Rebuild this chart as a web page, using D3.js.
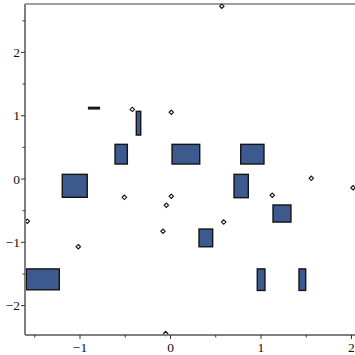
<!DOCTYPE html>
<html><head><meta charset="utf-8">
<script src="https://cdn.jsdelivr.net/npm/d3@7"></script>
<style>body{margin:0;background:#fff}svg{display:block}</style>
</head><body>
<svg id="c" width="355" height="355"></svg>
<script>
// Rectangles (data coordinates)
const rectX0 = [-0.905, -1.196, -0.613, -0.378, 0.017, 0.776, 0.702, 1.133, 0.315, -1.593, 0.959, 1.420];
const rectX1 = [-0.786, -0.920, -0.477, -0.329, 0.323, 1.033, 0.860, 1.331, 0.466, -1.229, 1.044, 1.494];
const rectY0 = [1.108, -0.289, 0.237, 0.695, 0.237, 0.237, -0.295, -0.680, -1.070, -1.750, -1.760, -1.760];
const rectY1 = [1.132, 0.074, 0.548, 1.069, 0.548, 0.548, 0.074, -0.410, -0.790, -1.420, -1.420, -1.420];
// Points
const ptX = [0.567, -1.582, -1.019, -0.422, 0.009, -0.510, 0.009, -0.046, -0.053, 1.556, 2.017, 1.125, -0.083, 0.588];
const ptY = [2.730, -0.668, -1.069, 1.100, 1.054, -0.289, -0.273, -0.415, -2.440, 0.011, -0.137, -0.257, -0.826, -0.680];
// Ticks
const xMajor = [-1, 0, 1, 2];
const xMinor = [-1.5, -0.5, 0.5, 1.5];
const yMajor = [-2, -1, 0, 1, 2];
const yMinor = [-1.5, -0.5, 0.5, 1.5, 2.5];
const fmt = v => v < 0 ? "\u2212" + Math.abs(v) : String(v);

const svg = d3.select("#c");
const x = d3.scaleLinear().domain([-1.608, 2.039]).range([25, 355]);
const y = d3.scaleLinear().domain([-2.464, 2.765]).range([335, 4]);
const axisCol = "#7f7f7f";

// frame top line
svg.append("line").attr("x1", 25).attr("x2", 355).attr("y1", 4).attr("y2", 4)
  .attr("stroke", axisCol).attr("stroke-width", 1.5);

// rects
const rects = rectX0.map((d, i) => ({x0: d, x1: rectX1[i], y0: rectY0[i], y1: rectY1[i]}));
svg.append("g").selectAll("rect").data(rects).join("rect")
  .attr("x", d => x(d.x0)).attr("y", d => y(d.y1))
  .attr("width", d => x(d.x1) - x(d.x0)).attr("height", d => y(d.y0) - y(d.y1))
  .attr("fill", "#3d5a8f").attr("stroke", "#141414").attr("stroke-width", 1.4);

// points (diamonds)
const pts = ptX.map((d, i) => ({x: d, y: ptY[i]}));
svg.append("g").selectAll("path").data(pts).join("path")
  .attr("d", d => { const cx = x(d.x), cy = y(d.y), r = 2.2;
    return `M${cx},${cy - r}L${cx + r},${cy}L${cx},${cy + r}L${cx - r},${cy}Z`; })
  .attr("fill", "#fff").attr("stroke", "#111").attr("stroke-width", 1.1);

// x axis
const gx = svg.append("g");
gx.append("line").attr("x1", 25).attr("x2", 355).attr("y1", 335).attr("y2", 335)
  .attr("stroke", axisCol).attr("stroke-width", 2);
gx.selectAll("line.maj").data(xMajor).join("line").attr("class", "maj")
  .attr("x1", d => x(d)).attr("x2", d => x(d)).attr("y1", 335).attr("y2", 339)
  .attr("stroke", "#333").attr("stroke-width", 1);
gx.selectAll("line.min").data(xMinor).join("line").attr("class", "min")
  .attr("x1", d => x(d)).attr("x2", d => x(d)).attr("y1", 335).attr("y2", 337.5)
  .attr("stroke", "#333").attr("stroke-width", 1);
gx.selectAll("text").data(xMajor).join("text")
  .attr("x", d => x(d)).attr("y", 352).attr("text-anchor", "middle")
  .attr("font-family", "Liberation Serif, serif").attr("font-size", 13.5).attr("fill", "#111")
  .text(fmt);

// y axis
const gy = svg.append("g");
gy.append("line").attr("x1", 25).attr("x2", 25).attr("y1", 4).attr("y2", 335)
  .attr("stroke", axisCol).attr("stroke-width", 2);
gy.selectAll("line.maj").data(yMajor).join("line").attr("class", "maj")
  .attr("x1", 21).attr("x2", 25).attr("y1", d => y(d)).attr("y2", d => y(d))
  .attr("stroke", "#333").attr("stroke-width", 1);
gy.selectAll("line.min").data(yMinor).join("line").attr("class", "min")
  .attr("x1", 22.5).attr("x2", 25).attr("y1", d => y(d)).attr("y2", d => y(d))
  .attr("stroke", "#333").attr("stroke-width", 1);
gy.selectAll("text").data(yMajor).join("text")
  .attr("x", 20).attr("y", d => y(d) + 4.5).attr("text-anchor", "end")
  .attr("font-family", "Liberation Serif, serif").attr("font-size", 13.5).attr("fill", "#111")
  .text(fmt);
</script>
</body></html>
